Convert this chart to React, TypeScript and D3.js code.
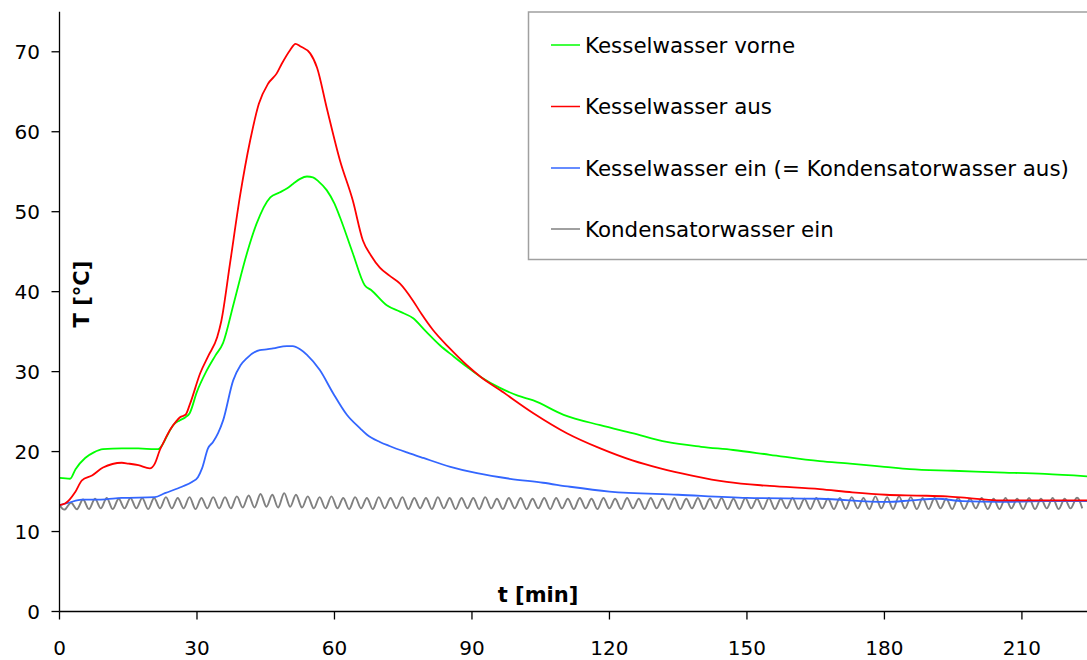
import React from "react";
import * as d3 from "d3";

// ---- data ----
const xTicks = [0, 30, 60, 90, 120, 150, 180, 210];
const yTicks = [0, 10, 20, 30, 40, 50, 60, 70];

const seriesNames = [
  "Kesselwasser vorne",
  "Kesselwasser aus",
  "Kesselwasser ein (= Kondensatorwasser aus)",
  "Kondensatorwasser ein",
];
const seriesColors = ["#00ff00", "#ff0000", "#3366ff", "#808080"];

const greenT = [0, 2.3, 3.5, 5.6, 7.5, 9.5, 13.6, 17.2, 20.8, 21.5, 22.4, 23.5, 24.8, 26.2, 27.5, 28.4, 30, 32, 34, 35.7, 38, 40.9, 43, 46, 48, 49.6, 51, 52.5, 54, 55.3, 56.5, 58.3, 60, 61.2, 64, 66.6, 68, 71.4, 74.3, 77.1, 80, 83, 86, 88.9, 92, 96, 100, 103.4, 110, 118, 125, 132.5, 140, 147, 155, 165.9, 172.5, 180, 185.5, 195, 204.5, 215, 224.2];
const greenV = [16.7, 16.6, 17.8, 19.2, 19.9, 20.3, 20.4, 20.4, 20.3, 20.3, 20.8, 22.0, 23.3, 23.9, 24.3, 24.8, 27.5, 30, 32, 33.6, 38.5, 44.8, 48.5, 51.8, 52.4, 52.9, 53.5, 54.1, 54.4, 54.3, 53.8, 52.7, 51, 49.3, 44.8, 40.8, 40.2, 38.3, 37.5, 36.7, 35, 33.3, 31.9, 30.6, 29.3, 28, 27, 26.4, 24.6, 23.3, 22.3, 21.2, 20.6, 20.2, 19.6, 18.8, 18.5, 18.1, 17.8, 17.6, 17.4, 17.2, 16.9];

const redT = [0, 1.2, 2.2, 3.4, 4.9, 7.1, 9.5, 13.6, 15, 17.2, 19.7, 20.8, 21.9, 23, 24.1, 25.5, 26.3, 27.5, 28.5, 30.7, 32.5, 34.4, 35.3, 37.2, 39.4, 41.6, 43.5, 45.5, 47.4, 48.5, 50.3, 51.5, 52.5, 54.7, 56.2, 58.3, 61.2, 64, 66.2, 68, 69.9, 72, 74.3, 77.1, 79, 81.5, 85, 88.9, 92, 96.1, 103.4, 110.7, 118, 125, 131.1, 138, 145.6, 155, 165.9, 173, 180.3, 187, 193.6, 198, 204.5, 215, 224.2];
const redV = [13.3, 13.5, 14.0, 14.9, 16.4, 17.0, 18.0, 18.6, 18.5, 18.3, 17.9, 18.5, 20.2, 21.5, 22.7, 23.8, 24.3, 24.6, 26, 29.8, 32, 34.3, 36.3, 43.5, 52, 58.9, 63.5, 66, 67.3, 68.5, 70.2, 71, 70.7, 69.8, 68, 63, 56.4, 51.4, 46.4, 44.5, 43, 42, 41, 38.9, 37.2, 35.2, 33, 30.8, 29.3, 27.7, 24.8, 22.3, 20.4, 18.9, 17.9, 17.0, 16.2, 15.7, 15.3, 14.9, 14.6, 14.5, 14.4, 14.2, 13.9, 13.9, 13.9];

const blueT = [0, 2, 4.9, 9, 13.6, 20.8, 23, 26.7, 28.9, 30.2, 31.1, 32.4, 33.5, 34.6, 35.7, 37.9, 39.5, 40.9, 43.7, 45.5, 46.6, 49.6, 50.9, 52.5, 54, 56.8, 59.7, 62.7, 65.6, 67.1, 69.9, 72, 75.8, 79.4, 85.3, 91.1, 98.3, 105.5, 111.4, 120, 135, 150, 165.9, 180.3, 186, 191.5, 197, 205, 215, 224.2];
const blueV = [13.3, 13.6, 14.0, 14.0, 14.2, 14.3, 14.8, 15.6, 16.2, 16.8, 17.9, 20.4, 21.2, 22.3, 23.9, 28.9, 30.8, 31.7, 32.7, 32.8, 32.9, 33.2, 33.2, 32.8, 32.1, 30.2, 27.3, 24.6, 22.9, 22.1, 21.2, 20.7, 19.9, 19.2, 18.1, 17.3, 16.6, 16.1, 15.6, 15.0, 14.6, 14.2, 14.1, 13.7, 13.9, 14.1, 13.8, 13.7, 13.8, 13.8];

// gray: alternating trough / peak readings, sampled every half oscillation
const graySampleStep = 1.29; // minutes between successive extremes
const grayV = [
  13.3, 12.8, 13.6, 12.8, 14.0, 12.8, 14.1, 12.9, 14.2, 12.8,
  14.1, 12.9, 14.2, 12.9, 14.2, 12.8, 14.2, 12.9, 14.3, 12.9,
  14.2, 12.9, 14.3, 12.8, 14.2, 12.9, 14.3, 12.9, 14.3, 12.9,
  14.4, 13.0, 14.5, 13.0, 14.7, 13.1, 14.6, 13.0, 14.8, 13.1,
  14.6, 13.0, 14.4, 12.9, 14.3, 12.9, 14.4, 12.9, 14.2, 12.8,
  14.3, 12.9, 14.2, 12.8, 14.3, 12.9, 14.2, 12.9, 14.3, 12.8,
  14.2, 12.9, 14.2, 12.8, 14.3, 12.9, 14.2, 12.8, 14.2, 12.9,
  14.2, 12.8, 14.3, 12.9, 14.1, 12.8, 14.2, 12.9, 14.2, 12.8,
  14.1, 12.9, 14.2, 12.8, 14.2, 12.9, 14.1, 12.8, 14.2, 12.9,
  14.1, 12.8, 14.2, 12.9, 14.1, 12.8, 14.2, 12.9, 14.1, 12.8,
  14.2, 12.9, 14.1, 12.8, 14.2, 12.8, 14.1, 12.9, 14.2, 12.8,
  14.1, 12.9, 14.2, 12.8, 14.1, 12.8, 14.2, 12.9, 14.1, 12.8,
  14.2, 12.8, 14.1, 12.9, 14.2, 12.8, 14.1, 12.8, 14.2, 12.9,
  14.1, 12.8, 14.2, 12.8, 14.3, 12.9, 14.2, 12.8, 14.4, 12.9,
  14.3, 12.8, 14.4, 12.9, 14.3, 12.8, 14.2, 12.8, 14.2, 12.9,
  14.1, 12.8, 14.2, 12.8, 14.1, 12.9, 14.2, 12.8, 14.1, 12.8,
  14.2, 12.9, 14.1, 12.8, 14.2, 12.8, 14.1, 12.9, 14.2, 12.8,
  14.1, 12.9, 14.2, 12.9,
];

// ---- layout ----
const W = 1087;
const H = 660;
const left = 59.5;
const right = 1087;
const top = 11.8;
const bottom = 611.5;
const FONT = "'DejaVu Sans', Verdana, sans-serif";

export default function App() {
  const x = d3.scaleLinear().domain([0, 224.2]).range([left, right]);
  const y = d3.scaleLinear().domain([0, 75]).range([bottom, top]);

  const line = d3
    .line<[number, number]>()
    .x((d) => x(d[0]))
    .y((d) => y(d[1]))
    .curve(d3.curveMonotoneX);
  const waveLine = d3
    .line<[number, number]>()
    .x((d) => x(d[0]))
    .y((d) => y(d[1]))
    .curve(d3.curveNatural);

  const zip = (t: number[], v: number[]) => t.map((tt, i) => [tt, v[i]] as [number, number]);
  const grayPts = grayV.map((v, i) => [i * graySampleStep, v] as [number, number]);

  const legendX = 528.5;
  const legendY = 12;
  const legendRowY = [45, 106.5, 168, 229];

  return (
    <svg
      width={W}
      height={H}
      style={{ position: "absolute", left: 0, top: 0, background: "#fff" }}
      fontFamily={FONT}
    >
      <defs>
        <clipPath id="plot">
          <rect x={left} y={top} width={right - left} height={bottom - top} />
        </clipPath>
      </defs>
      <rect x={0} y={0} width={W} height={H} fill="#fff" />

      <g clipPath="url(#plot)">
        <path d={waveLine(grayPts) || ""} fill="none" stroke={seriesColors[3]} strokeWidth={1.9} />
        <path d={line(zip(blueT, blueV)) || ""} fill="none" stroke={seriesColors[2]} strokeWidth={1.8} />
        <path d={line(zip(greenT, greenV)) || ""} fill="none" stroke={seriesColors[0]} strokeWidth={1.8} />
        <path d={line(zip(redT, redV)) || ""} fill="none" stroke={seriesColors[1]} strokeWidth={1.8} />
      </g>

      {/* legend */}
      <rect
        x={legendX}
        y={legendY}
        width={W - legendX + 10}
        height={259.5 - legendY}
        fill="#fff"
        stroke="#a0a0a0"
        strokeWidth={1.5}
      />
      {seriesNames.map((name, i) => (
        <g key={name}>
          <line
            x1={551}
            x2={580}
            y1={legendRowY[i]}
            y2={legendRowY[i]}
            stroke={seriesColors[i]}
            strokeWidth={1.5}
          />
          <text x={585} y={legendRowY[i]} dy="0.36em" fontSize={21.4} fill="#000">
            {name}
          </text>
        </g>
      ))}

      {/* axes */}
      <line x1={left} x2={left} y1={top} y2={bottom} stroke="#000" strokeWidth={1.3} />
      <line x1={left} x2={right} y1={bottom} y2={bottom} stroke="#000" strokeWidth={1.3} />
      {yTicks.map((t) => (
        <g key={"y" + t}>
          <line x1={left - 8} x2={left} y1={y(t)} y2={y(t)} stroke="#000" strokeWidth={1.3} />
          <text x={40} y={y(t)} dy="0.36em" textAnchor="end" fontSize={20} fill="#000">
            {t}
          </text>
        </g>
      ))}
      {xTicks.map((t) => (
        <g key={"x" + t}>
          <line x1={x(t)} x2={x(t)} y1={bottom} y2={bottom + 8} stroke="#000" strokeWidth={1.3} />
          <text x={x(t)} y={648} dy="0.36em" textAnchor="middle" fontSize={20} fill="#000">
            {t}
          </text>
        </g>
      ))}

      <text x={538} y={594} dy="0.36em" textAnchor="middle" fontSize={21} fontWeight="bold" fill="#000">
        t [min]
      </text>
      <text
        transform="translate(81,294) rotate(-90)"
        textAnchor="middle"
        dy="0.36em"
        fontSize={21}
        fontWeight="bold"
        fill="#000"
      >
        T [°C]
      </text>
    </svg>
  );
}
